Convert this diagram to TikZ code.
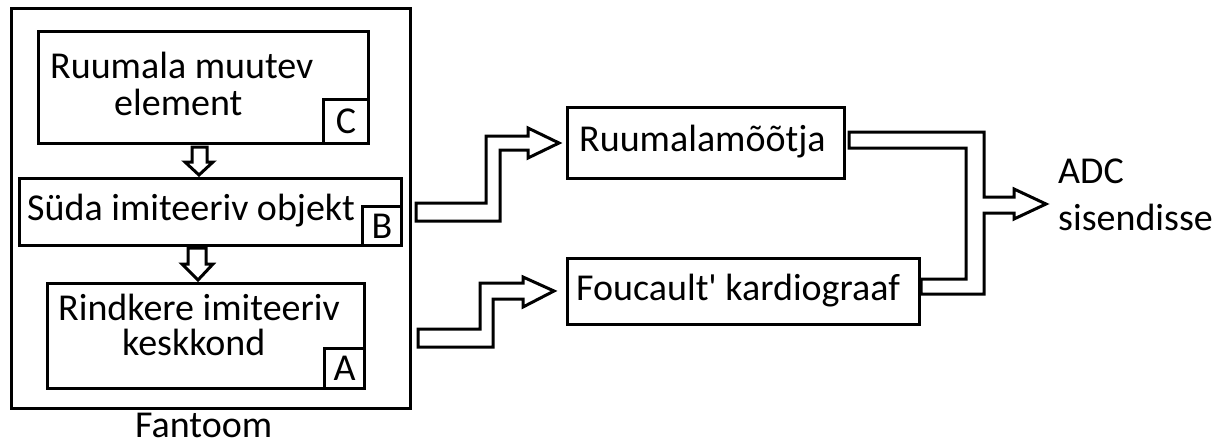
\documentclass[tikz,border=0pt]{standalone}
\usepackage{fontspec}
\setmainfont{Carlito}
\begin{document}
\begin{tikzpicture}[x=1pt,y=-1pt,
  box/.style={draw, line width=3pt, rectangle, inner sep=0pt, anchor=north west},
  txt/.style={font=\fontsize{38}{40}\selectfont, inner sep=0pt},
  fat/.style={draw, line width=3pt, fill=white, line join=miter}]
\useasboundingbox (0,0) rectangle (1222,439);
% boxes
\node[box, minimum width=399pt, minimum height=400pt] (outer) at (10,7) {};
\node[box, minimum width=330pt, minimum height=112pt] (C) at (37,30) {};
\node[box, minimum width=45pt, minimum height=44pt] (Clab) at (322,98) {};
\node[box, minimum width=382pt, minimum height=67pt] (B) at (18,177) {};
\node[box, minimum width=39pt, minimum height=39pt] (Blab) at (361,205) {};
\node[box, minimum width=317pt, minimum height=105pt] (A) at (46,282) {};
\node[box, minimum width=40pt, minimum height=40pt] (Alab) at (323,347) {};
\node[box, minimum width=277pt, minimum height=71pt] (R) at (566,106) {};
\node[box, minimum width=352pt, minimum height=66pt] (F) at (566,257) {};
% letters
\node[txt] at (Clab.center) {C};
\node[txt] at (Blab.center) {B};
\node[txt] at (Alab.center) {A};
% texts
\node[txt, anchor=base west] (c1) at (50,78) {Ruumala muutev};
\node[txt, anchor=base west] (c2) at (114,115) {element};
\node[txt, anchor=base west] (b1) at (27,220) {Süda imiteeriv objekt};
\node[txt, anchor=base west] (a1) at (58,320) {Rindkere imiteeriv};
\node[txt, anchor=base west] (a2) at (122,355) {keskkond};
\node[txt, anchor=base west] (fan) at (135,437) {Fantoom};
\node[txt, anchor=base west] (rt) at (579,151) {Ruumalamõõtja};
\node[txt, anchor=base west] (ft) at (576,300) {Foucault\textquotesingle{} kardiograaf};
\node[txt, anchor=base west] (adc1) at (1058,183) {ADC};
\node[txt, anchor=base west] (adc2) at (1058,230) {sisendisse};
% down arrows
\draw[fat] (192,147) -- (207,147) -- (207,162) -- (213,162) -- (199,175) -- (185,162) -- (192,162) -- cycle;
\draw[fat] (188,248) -- (206,248) -- (206,264) -- (213,264) -- (198,280) -- (182,264) -- (188,264) -- cycle;
% step arrows
\draw[fat] (416,221) -- (500,221) -- (500,150) -- (528,150) -- (528,158) -- (559,143) -- (528,128) -- (528,136) -- (486,136) -- (486,203) -- (416,203) -- cycle;
\draw[fat] (418,347) -- (493,347) -- (493,299) -- (523,299) -- (523,307) -- (554,291) -- (523,277) -- (523,283) -- (480,283) -- (480,329) -- (418,329) -- cycle;
% merge arrow
\draw[fat] (849,132) -- (984,132) -- (984,197) -- (1014,197) -- (1014,189) -- (1046,204) -- (1014,219) -- (1014,213) -- (984,213) -- (984,294) -- (921,294) -- (921,279) -- (966,279) -- (966,148) -- (849,148) -- cycle;
\end{tikzpicture}
\end{document}
